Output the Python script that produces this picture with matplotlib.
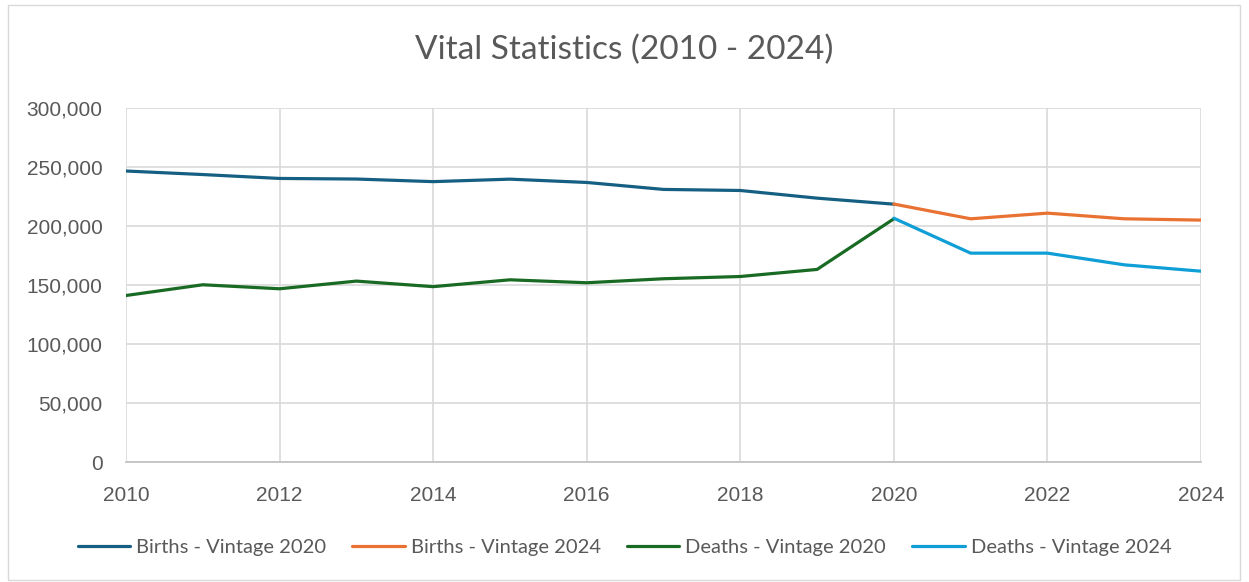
import matplotlib
matplotlib.use("Agg")
import matplotlib.pyplot as plt
from matplotlib.ticker import FuncFormatter, MultipleLocator
from matplotlib.patches import Rectangle

years_v2020 = [2010, 2011, 2012, 2013, 2014, 2015, 2016, 2017, 2018, 2019, 2020]
years_v2024 = [2020, 2021, 2022, 2023, 2024]
births_v2020 = [246600, 243600, 240300, 239800, 237600, 239700, 236900, 231000, 230100, 223600, 218500]
births_v2024 = [218600, 206100, 210900, 206100, 205000]
deaths_v2020 = [141100, 150200, 146800, 153300, 148600, 154400, 151900, 155300, 157200, 163200, 206100]
deaths_v2024 = [206600, 177000, 177000, 167100, 161700]

series = [
    ("Births - Vintage 2020", years_v2020, births_v2020, "#156082"),
    ("Births - Vintage 2024", years_v2024, births_v2024, "#E97132"),
    ("Deaths - Vintage 2020", years_v2020, deaths_v2020, "#196B24"),
    ("Deaths - Vintage 2024", years_v2024, deaths_v2024, "#0F9ED5"),
]

plt.rcParams['font.family'] = ['Lato', 'DejaVu Sans']
W, H = 1249, 582
fig = plt.figure(figsize=(W / 100, H / 100), dpi=100)
fig.patch.set_facecolor("white")
fig.add_artist(Rectangle((8 / W, 2 / H), 1232 / W, 575 / H, transform=fig.transFigure,
                         fill=False, edgecolor="#D9D9D9", linewidth=1.0))

ax = fig.add_axes([126 / W, 1 - 462 / H, (1201 - 126) / W, (462 - 108) / H])
for label, x, y, c in series:
    ax.plot(x, y, color=c, linewidth=2.3, label=label, solid_capstyle="round")

ax.set_xlim(2010, 2024)
ax.set_ylim(0, 300000)
ax.xaxis.set_major_locator(MultipleLocator(2))
ax.yaxis.set_major_locator(MultipleLocator(50000))
ax.yaxis.set_major_formatter(FuncFormatter(lambda v, p: f"{int(v):,}"))
ax.grid(True, color="#D9D9D9", linewidth=1.2)
ax.set_axisbelow(True)
for s in ["top", "right", "left"]:
    ax.spines[s].set_visible(False)
ax.spines["bottom"].set_color("#BFBFBF")
ax.spines["bottom"].set_linewidth(1.2)
ax.tick_params(axis="both", length=0, labelsize=15, colors="#595959")
ax.tick_params(axis="y", pad=17)
ax.tick_params(axis="x", pad=17)
for t in ax.get_xticklabels() + ax.get_yticklabels():
    t.set_fontfamily(['Liberation Sans', 'DejaVu Sans'])

fig.text(0.5, 1 - 50 / H, "Vital Statistics (2010 - 2024)", ha="center", va="center",
         fontsize=24, color="#595959")

fig.legend(loc="center", bbox_to_anchor=(0.5, 1 - 547 / H), ncol=4, frameon=False,
           fontsize=14.5, labelcolor="#595959", handlelength=2.6, handletextpad=0.3,
           columnspacing=1.3)

fig.savefig("out.png", dpi=100, facecolor="white")
